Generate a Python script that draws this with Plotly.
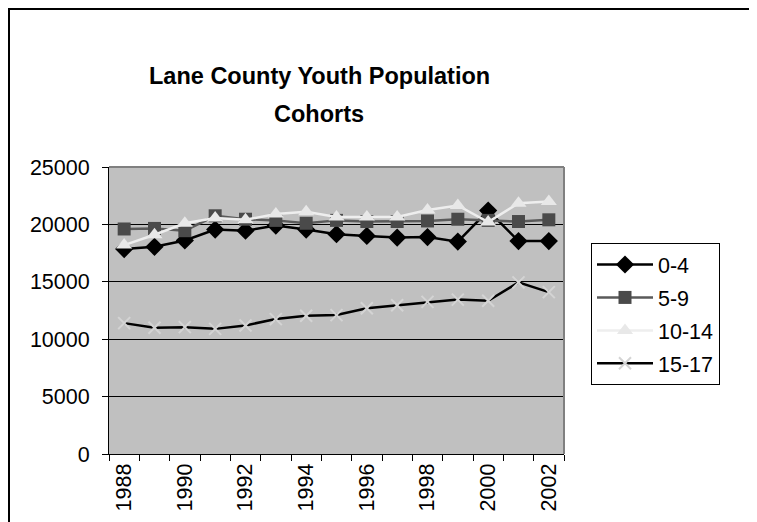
import plotly.graph_objects as go

years = list(range(1988, 2003))
age_0_4 = [17850, 18050, 18600, 19550, 19450, 19900, 19550, 19150, 19000, 18850, 18900, 18500, 21200, 18550, 18550]
age_5_9 = [19600, 19650, 19450, 20750, 20450, 20350, 20100, 20350, 20250, 20250, 20300, 20450, 20350, 20250, 20400]
age_10_14 = [18200, 19100, 20100, 20550, 20400, 20900, 21100, 20650, 20650, 20650, 21250, 21650, 20200, 21850, 22000]
age_15_17 = [11400, 11000, 11050, 10900, 11200, 11750, 12050, 12100, 12700, 12950, 13250, 13450, 13350, 14950, 14100]

W, H = 757, 522
OFF = 8  # page body margin
L, R, T, B = 109 - OFF, 564 - OFF, 167 - OFF, 454 - OFF  # plot area, figure px


def px_x(p):
    return (p - L) / (R - L)


def px_y(p):
    return (B - p) / (B - T)


font = "Liberation Sans, Arial, sans-serif"

fig = go.Figure()
fig.add_trace(go.Scatter(x=years, y=age_0_4, name="0-4", mode="lines+markers",
                         line=dict(color="black", width=2.5),
                         marker=dict(symbol="diamond", size=14, color="black")))
fig.add_trace(go.Scatter(x=years, y=age_5_9, name="5-9", mode="lines+markers",
                         line=dict(color="#5a5a5a", width=2.5),
                         marker=dict(symbol="square", size=13, color="#4a4a4a")))
fig.add_trace(go.Scatter(x=years, y=age_10_14, name="10-14", mode="lines+markers",
                         line=dict(color="#eeeeee", width=2.5),
                         marker=dict(symbol="triangle-up", size=14, color="#e8e8e8")))
fig.add_trace(go.Scatter(x=years, y=age_15_17, name="15-17", mode="lines+markers",
                         line=dict(color="black", width=2.5),
                         marker=dict(symbol="x-thin", size=12, color="#d4d4d4",
                                     line=dict(color="#d4d4d4", width=2))))

for i, tr in enumerate(fig.data):
    tr.legendgroup = "g%d" % i

title_lines = ["Lane County Youth Population", "Cohorts"]
title_y = [76 - OFF, 114 - OFF]

fig.update_layout(
    width=W, height=H,
    margin=dict(l=L, r=W - R, t=T, b=H - B),
    paper_bgcolor="white",
    plot_bgcolor="#c0c0c0",
    font=dict(family=font, size=21.5, color="black"),
    showlegend=True,
    legend=dict(x=px_x(591 - OFF), y=px_y(243 - OFF), xanchor="left", yanchor="top",
                bgcolor="white", bordercolor="black", borderwidth=1,
                font=dict(family=font, size=21.5), itemwidth=56,
                tracegroupgap=2),
    xaxis=dict(range=[1987.5, 2002.5], tickvals=years[::2],
               ticktext=[str(y) for y in years[::2]],
               tickangle=-90, ticks="", showgrid=False, zeroline=False,
               showline=True, linecolor="black", linewidth=1,
               minor=dict(tickvals=[y - 0.5 for y in years] + [2002.5],
                          ticks="outside", ticklen=6, tickcolor="black",
                          showgrid=False)),
    yaxis=dict(range=[0, 25000], dtick=5000, ticks="outside", ticklen=6,
               tickcolor="black", showgrid=True, gridcolor="black",
               gridwidth=1, zeroline=False, showline=True, linecolor="black",
               linewidth=1, tickformat="d", ticklabelstandoff=8),
    annotations=[
        dict(text="<b>%s</b>" % t, xref="paper", yref="paper",
             x=px_x(319 - OFF), y=px_y(yy), xanchor="center", yanchor="middle",
             showarrow=False, font=dict(family=font, size=23.5, color="black"))
        for t, yy in zip(title_lines, title_y)
    ],
    shapes=[
        # gray plot border top and right
        dict(type="line", xref="paper", yref="paper", x0=0, x1=1, y0=1, y1=1,
             line=dict(color="#808080", width=2), layer="above"),
        dict(type="line", xref="paper", yref="paper", x0=1, x1=1, y0=0, y1=1,
             line=dict(color="#808080", width=2), layer="above"),
        # outer chart frame
        dict(type="rect", xref="paper", yref="paper",
             x0=px_x(0.5), x1=px_x(820), y0=px_y(0.5), y1=px_y(600),
             line=dict(color="black", width=3), layer="above"),
    ],
)

fig.write_html("out.html")
